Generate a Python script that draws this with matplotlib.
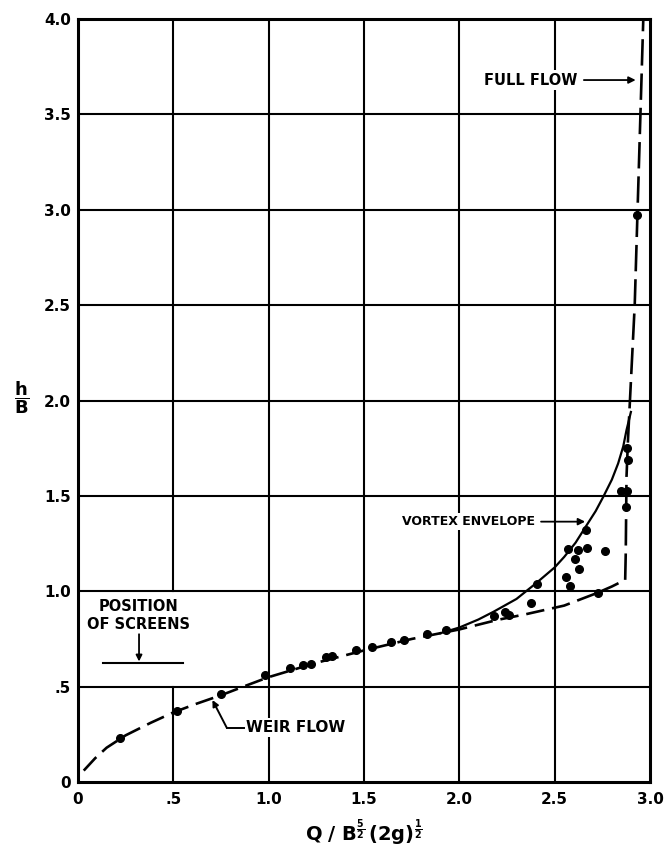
import matplotlib
matplotlib.use("Agg")
import matplotlib.pyplot as plt

plt.rcParams['font.family'] = ['DejaVu Sans']
plt.rcParams['mathtext.fontset'] = 'dejavusans'

# ---- data ----
pts_x = [0.22, 0.52, 0.75, 0.98, 1.11, 1.18, 1.22, 1.30, 1.33, 1.46, 1.54, 1.64, 1.71,
         1.83, 1.93, 2.18, 2.24, 2.26, 2.375, 2.41, 2.58, 2.56, 2.63, 2.605, 2.57,
         2.625, 2.67, 2.765, 2.665, 2.73, 2.85, 2.88, 2.875, 2.88, 2.885, 2.933]
pts_y = [0.23, 0.37, 0.46, 0.56, 0.60, 0.613, 0.62, 0.657, 0.66, 0.692, 0.706, 0.735, 0.744,
         0.774, 0.797, 0.87, 0.893, 0.875, 0.94, 1.036, 1.027, 1.076, 1.115, 1.167, 1.22,
         1.216, 1.225, 1.213, 1.321, 0.99, 1.525, 1.525, 1.44, 1.75, 1.69, 2.973]

weir_x = [0.03, 0.09, 0.15, 0.25, 0.38, 0.50, 0.62, 0.75, 0.88, 1.00, 1.25, 1.50, 1.75,
          2.00, 2.20, 2.35, 2.55, 2.72, 2.80, 2.87]
weir_y = [0.06, 0.125, 0.18, 0.245, 0.31, 0.365, 0.41, 0.455, 0.505, 0.55, 0.625, 0.69, 0.75,
          0.80, 0.85, 0.88, 0.925, 0.99, 1.025, 1.06]

full_x = [2.87, 2.873, 2.877, 2.885, 2.895, 2.905, 2.92, 2.935, 2.95, 2.965]
full_y = [1.06, 1.20, 1.60, 1.80, 2.00, 2.20, 2.50, 3.00, 3.50, 4.00]

env_x = [1.90, 2.00, 2.10, 2.18, 2.30, 2.40, 2.50, 2.55, 2.61, 2.667, 2.715, 2.755, 2.80,
         2.833, 2.86, 2.877, 2.90]
env_y = [0.78, 0.81, 0.852, 0.893, 0.96, 1.04, 1.125, 1.18, 1.255, 1.345, 1.42, 1.495, 1.585,
         1.67, 1.76, 1.845, 1.94]

xticks = [0, 0.5, 1.0, 1.5, 2.0, 2.5, 3.0]
xtick_labels = ['0', '.5', '1.0', '1.5', '2.0', '2.5', '3.0']
yticks = [0, 0.5, 1.0, 1.5, 2.0, 2.5, 3.0, 3.5, 4.0]
ytick_labels = ['0', '.5', '1.0', '1.5', '2.0', '2.5', '3.0', '3.5', '4.0']

fig = plt.figure(figsize=(6.68, 8.56), dpi=100)
ax = fig.add_axes([0.1168, 0.0864, 0.8562, 0.8914])
ax.set_xlim(0, 3.0)
ax.set_ylim(0, 4.0)

# grid lines (x = 0.5 line interrupted by the "position of screens" note)
for gx in xticks[1:-1]:
    if gx == 0.5:
        ax.axvline(gx, 0, 0.125, color='k', lw=1.5, zorder=1)
        ax.axvline(gx, 0.25, 1, color='k', lw=1.5, zorder=1)
    else:
        ax.axvline(gx, color='k', lw=1.5, zorder=1)
for gy in yticks[1:-1]:
    ax.axhline(gy, color='k', lw=1.5, zorder=1)

for s in ax.spines.values():
    s.set_linewidth(2.2)

ax.set_xticks(xticks)
ax.set_xticklabels(xtick_labels)
ax.set_yticks(yticks)
ax.set_yticklabels(ytick_labels)
ax.tick_params(length=0, labelsize=11, pad=5)
for lab in ax.get_xticklabels() + ax.get_yticklabels():
    lab.set_fontweight('bold')
ax.tick_params(axis='x', pad=7)

# curves
ax.plot(weir_x, weir_y, color='k', lw=1.9, dashes=(7, 3), zorder=4)
ax.plot(full_x, full_y, color='k', lw=1.9, dashes=(10, 3), zorder=4)
ax.plot(env_x, env_y, color='k', lw=1.6, zorder=4)
ax.plot(pts_x, pts_y, 'o', color='k', ms=5.5, zorder=5)

bb = dict(boxstyle='square,pad=0.15', fc='white', ec='none')

# annotations
ax.annotate('FULL FLOW', xy=(2.925, 3.68), xytext=(2.62, 3.68), ha='right', va='center',
            fontsize=10.5, fontweight='bold', zorder=3, bbox=bb,
            arrowprops=dict(arrowstyle='-|>', color='k', lw=1.3, shrinkA=3, shrinkB=0,
                            mutation_scale=10))
ax.annotate('VORTEX ENVELOPE', xy=(2.66, 1.365), xytext=(2.397, 1.365), ha='right', va='center',
            fontsize=9, fontweight='bold', zorder=3, bbox=bb,
            arrowprops=dict(arrowstyle='-|>', color='k', lw=1.3, shrinkA=3, shrinkB=0,
                            mutation_scale=10))
ax.text(0.315, 0.872, 'POSITION\nOF SCREENS', ha='center', va='center', fontsize=10.5,
        fontweight='bold', linespacing=1.2, zorder=3)
ax.plot([0.13, 0.55], [0.625, 0.625], color='k', lw=1.5, zorder=4)
ax.annotate('', xy=(0.32, 0.632), xytext=(0.32, 0.775),
            arrowprops=dict(arrowstyle='-|>', color='k', lw=1.3, shrinkA=0, shrinkB=0,
                            mutation_scale=9))
ax.text(0.88, 0.285, 'WEIR FLOW', ha='left', va='center', fontsize=11, fontweight='bold',
        zorder=3, bbox=bb)
ax.plot([0.87, 0.78], [0.285, 0.285], color='k', lw=1.4, zorder=4)
ax.annotate('', xy=(0.705, 0.43), xytext=(0.78, 0.285),
            arrowprops=dict(arrowstyle='-|>', color='k', lw=1.4, shrinkA=0, shrinkB=0,
                            mutation_scale=9))

ax.set_xlabel(r'$\mathbf{Q\ /\ B^{\frac{5}{2}}\,(2g)^{\frac{1}{2}}}$', fontsize=14, labelpad=8)
fig.text(22 / 668, 1 - 398 / 856, r'$\mathbf{\dfrac{h}{B}}$', fontsize=13,
         ha='center', va='center')

fig.savefig('out.png', dpi=100)
